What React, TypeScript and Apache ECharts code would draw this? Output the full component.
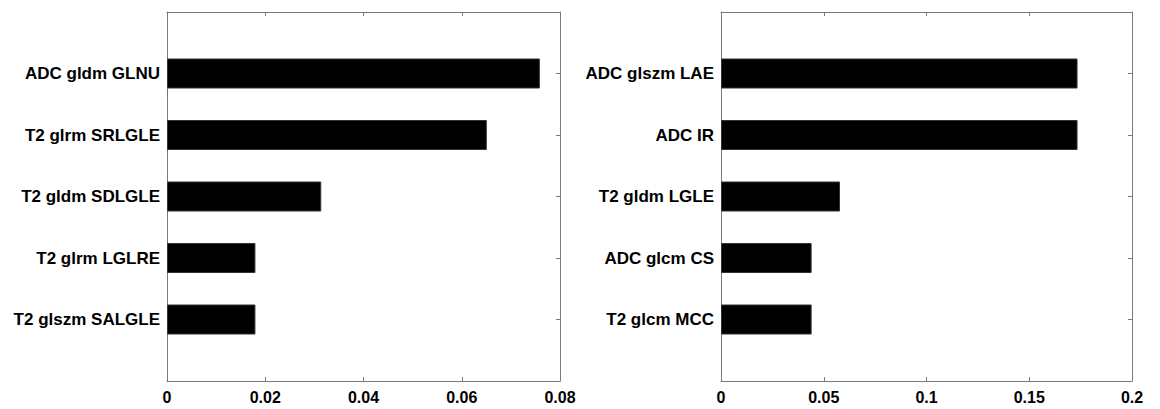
import React, { useEffect, useRef } from "react";
import * as echarts from "echarts";

// Left panel (bottom to top)
const leftCategories = ["T2 glszm SALGLE", "T2 glrm LGLRE", "T2 gldm SDLGLE", "T2 glrm SRLGLE", "ADC gldm GLNU"];
const leftValues = [0.018, 0.018, 0.0314, 0.0651, 0.0759];
// Right panel (bottom to top)
const rightCategories = ["T2 glcm MCC", "ADC glcm CS", "T2 gldm LGLE", "ADC IR", "ADC glszm LAE"];
const rightValues = [0.0441, 0.0441, 0.0579, 0.1735, 0.1735];

const leftTicks = { min: 0, max: 0.08, interval: 0.02 };
const rightTicks = { min: 0, max: 0.2, interval: 0.05 };

const FONT = "'Liberation Sans', Arial, Helvetica, sans-serif";
const AXIS_COLOR = "#7a7a7a";

function fmt(v: number): string {
  return String(parseFloat(v.toFixed(4)));
}

function padCats(c: string[]) {
  return ["", ...c, ""];
}
function padVals(v: number[]) {
  return [null, ...v, null];
}

export default function App() {
  const ref = useRef<HTMLDivElement>(null);
  useEffect(() => {
    if (!ref.current) return;
    const chart = echarts.init(ref.current, undefined, { renderer: "svg" });

    const xAxisFor = (gridIndex: number, t: { min: number; max: number; interval: number }, top: boolean) => ({
      type: "value",
      gridIndex,
      position: top ? "top" : "bottom",
      min: t.min,
      max: t.max,
      interval: t.interval,
      axisLine: { show: true, onZero: false, lineStyle: { color: AXIS_COLOR, width: 1 } },
      axisTick: { show: true, inside: true, length: 4, lineStyle: { color: AXIS_COLOR } },
      axisLabel: {
        show: !top,
        color: "#000",
        fontFamily: FONT,
        fontWeight: "bold",
        fontSize: 16,
        margin: 8,
        formatter: (v: number) => fmt(v),
      },
      splitLine: { show: false },
    });

    const yAxisFor = (gridIndex: number, cats: string[], right: boolean) => ({
      type: "category",
      gridIndex,
      position: right ? "right" : "left",
      data: padCats(cats),
      boundaryGap: false,
      axisLine: { show: true, onZero: false, lineStyle: { color: AXIS_COLOR, width: 1 } },
      axisTick: {
        show: true,
        inside: true,
        length: 4,
        interval: (_i: number, v: string) => v !== "",
        lineStyle: { color: AXIS_COLOR },
      },
      axisLabel: {
        show: !right,
        color: "#000",
        fontFamily: FONT,
        fontWeight: "bold",
        fontSize: 17,
        margin: 7,
        interval: 0,
      },
      splitLine: { show: false },
    });

    chart.setOption({
      animation: false,
      backgroundColor: "#fff",
      grid: [
        { left: 167, right: 600, top: 12, bottom: 28 },
        { left: 721, right: 28, top: 12, bottom: 28 },
      ],
      xAxis: [
        xAxisFor(0, leftTicks, false),
        xAxisFor(0, leftTicks, true),
        xAxisFor(1, rightTicks, false),
        xAxisFor(1, rightTicks, true),
      ],
      yAxis: [
        yAxisFor(0, leftCategories, false),
        yAxisFor(0, leftCategories, true),
        yAxisFor(1, rightCategories, false),
        yAxisFor(1, rightCategories, true),
      ],
      series: [
        {
          type: "bar",
          xAxisIndex: 0,
          yAxisIndex: 0,
          data: padVals(leftValues),
          barWidth: 30,
          itemStyle: { color: "#000", borderColor: "#333", borderWidth: 1 },
        },
        {
          type: "bar",
          xAxisIndex: 2,
          yAxisIndex: 2,
          data: padVals(rightValues),
          barWidth: 30,
          itemStyle: { color: "#000", borderColor: "#333", borderWidth: 1 },
        },
      ],
    });
    return () => chart.dispose();
  }, []);
  return (
    <div
      ref={ref}
      style={{ position: "absolute", left: 0, top: 0, width: 1160, height: 409, background: "#fff" }}
    />
  );
}
